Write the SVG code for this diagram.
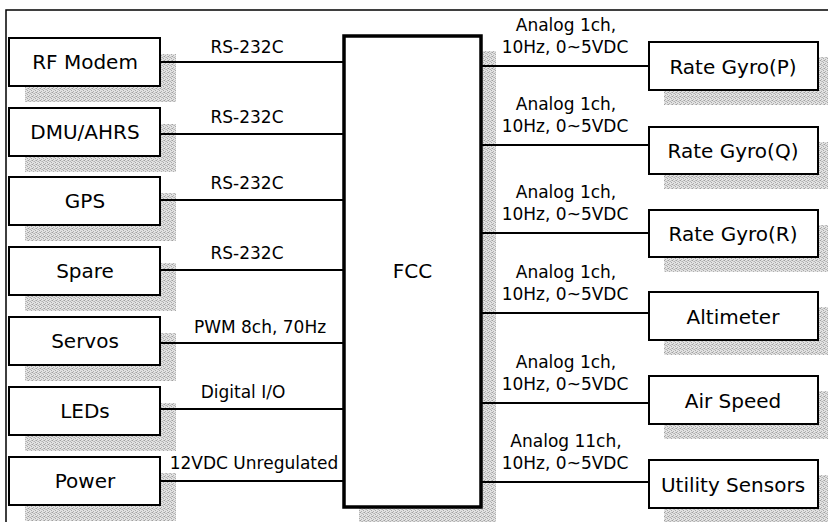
<svg xmlns="http://www.w3.org/2000/svg" width="828" height="522" viewBox="0 0 828 522">
<style>
.box{fill:#fff;stroke:#000;stroke-width:2}
.fcc{fill:#fff;stroke:#000;stroke-width:3.5}
.sh{fill:url(#ht)}
.conn line{stroke:#000;stroke-width:2.2}
.t{font-family:"DejaVu Sans","Liberation Sans",sans-serif;font-size:20px;fill:#000;text-anchor:middle}
.l{font-family:"DejaVu Sans","Liberation Sans",sans-serif;font-size:17px;fill:#000;text-anchor:middle}
</style>
<defs>
<pattern id="ht" width="4" height="4" patternUnits="userSpaceOnUse">
<rect width="4" height="4" fill="#e2e2e2"/>
<rect x="0" y="0" width="1" height="1" fill="#a0a0a0"/>
<rect x="2" y="1" width="1" height="1" fill="#b4b4b4"/>
<rect x="3" y="2" width="1" height="1" fill="#a8a8a8"/>
<rect x="1" y="3" width="1" height="1" fill="#b0b0b0"/>
<rect x="1" y="1" width="1" height="1" fill="#c4c4c4"/>
<rect x="3" y="0" width="1" height="1" fill="#c0c0c0"/>
</pattern>
</defs>
<rect width="828" height="522" fill="#fff"/>
<path d="M6,522 V10 H828" fill="none" stroke="#000" stroke-width="1.5"/>

<g id="fcc">
<rect class="sh" x="359" y="51" width="137" height="471"/>
<rect class="fcc" x="344" y="36" width="137" height="471"/>
<text class="t" x="412.5" y="278">FCC</text>
</g>

<g id="rf-modem">
<rect class="sh" x="25" y="54" width="151" height="48"/>
<rect class="box" x="9" y="38" width="151" height="48"/>
<text class="t" x="85" y="69">RF Modem</text>
</g>
<g id="dmu-ahrs">
<rect class="sh" x="25" y="124" width="151" height="48"/>
<rect class="box" x="9" y="108" width="151" height="48"/>
<text class="t" x="85" y="139">DMU/AHRS</text>
</g>
<g id="gps">
<rect class="sh" x="25" y="193" width="151" height="48"/>
<rect class="box" x="9" y="177" width="151" height="48"/>
<text class="t" x="85" y="208">GPS</text>
</g>
<g id="spare">
<rect class="sh" x="25" y="263" width="151" height="48"/>
<rect class="box" x="9" y="247" width="151" height="48"/>
<text class="t" x="85" y="278">Spare</text>
</g>
<g id="servos">
<rect class="sh" x="25" y="333" width="151" height="48"/>
<rect class="box" x="9" y="317" width="151" height="48"/>
<text class="t" x="85" y="348">Servos</text>
</g>
<g id="leds">
<rect class="sh" x="25" y="403" width="151" height="48"/>
<rect class="box" x="9" y="387" width="151" height="48"/>
<text class="t" x="85" y="418">LEDs</text>
</g>
<g id="power">
<rect class="sh" x="25" y="473" width="151" height="48"/>
<rect class="box" x="9" y="457" width="151" height="48"/>
<text class="t" x="85" y="488">Power</text>
</g>

<g id="rate-gyro-p">
<rect class="sh" x="664" y="57" width="169" height="48"/>
<rect class="box" x="649" y="42" width="169" height="48"/>
<text class="t" x="733" y="74">Rate Gyro(P)</text>
</g>
<g id="rate-gyro-q">
<rect class="sh" x="664" y="142" width="169" height="47"/>
<rect class="box" x="649" y="127" width="169" height="47"/>
<text class="t" x="733" y="158">Rate Gyro(Q)</text>
</g>
<g id="rate-gyro-r">
<rect class="sh" x="664" y="225" width="169" height="47"/>
<rect class="box" x="649" y="210" width="169" height="47"/>
<text class="t" x="733" y="241">Rate Gyro(R)</text>
</g>
<g id="altimeter">
<rect class="sh" x="664" y="307" width="169" height="48"/>
<rect class="box" x="649" y="292" width="169" height="48"/>
<text class="t" x="733" y="324">Altimeter</text>
</g>
<g id="air-speed">
<rect class="sh" x="664" y="391" width="169" height="48"/>
<rect class="box" x="649" y="376" width="169" height="48"/>
<text class="t" x="733" y="408">Air Speed</text>
</g>
<g id="utility-sensors">
<rect class="sh" x="664" y="475" width="169" height="48"/>
<rect class="box" x="649" y="460" width="169" height="48"/>
<text class="t" x="733" y="492">Utility Sensors</text>
</g>

<g id="connectors" class="conn">
<line x1="160" y1="62" x2="344" y2="62"/>
<line x1="160" y1="134" x2="344" y2="134"/>
<line x1="160" y1="200" x2="344" y2="200"/>
<line x1="160" y1="270" x2="344" y2="270"/>
<line x1="160" y1="343" x2="344" y2="343"/>
<line x1="160" y1="409" x2="344" y2="409"/>
<line x1="160" y1="481" x2="344" y2="481"/>
<line x1="481" y1="66" x2="649" y2="66"/>
<line x1="481" y1="145" x2="649" y2="145"/>
<line x1="481" y1="233" x2="649" y2="233"/>
<line x1="481" y1="313" x2="649" y2="313"/>
<line x1="481" y1="403" x2="649" y2="403"/>
<line x1="481" y1="482" x2="649" y2="482"/>
</g>

<g id="labels">
<text class="l" x="247" y="53">RS-232C</text>
<text class="l" x="247" y="123">RS-232C</text>
<text class="l" x="247" y="189">RS-232C</text>
<text class="l" x="247" y="259">RS-232C</text>
<text class="l" x="260" y="333">PWM 8ch, 70Hz</text>
<text class="l" x="243" y="398">Digital I/O</text>
<text class="l" x="254" y="469">12VDC Unregulated</text>
<text class="l" x="566" y="31">Analog 1ch,</text>
<text class="l" x="565" y="53">10Hz, 0~5VDC</text>
<text class="l" x="566" y="110">Analog 1ch,</text>
<text class="l" x="565" y="132">10Hz, 0~5VDC</text>
<text class="l" x="566" y="198">Analog 1ch,</text>
<text class="l" x="565" y="220">10Hz, 0~5VDC</text>
<text class="l" x="566" y="278">Analog 1ch,</text>
<text class="l" x="565" y="300">10Hz, 0~5VDC</text>
<text class="l" x="566" y="368">Analog 1ch,</text>
<text class="l" x="565" y="390">10Hz, 0~5VDC</text>
<text class="l" x="566" y="447">Analog 11ch,</text>
<text class="l" x="565" y="469">10Hz, 0~5VDC</text>
</g>
</svg>
